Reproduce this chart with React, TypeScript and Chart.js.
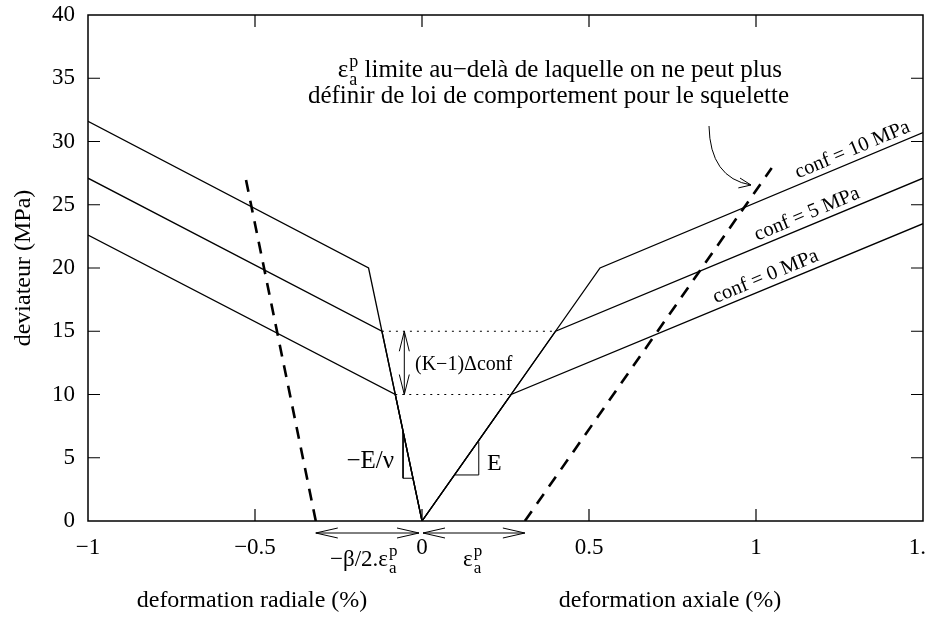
import React, { useEffect, useRef } from "react";
import { Chart, registerables } from "chart.js";
Chart.register(...registerables);

// ---- data ----
const X_TICKS = [-1, -0.5, 0, 0.5, 1, 1.5];
const X_TICK_LABELS = ["−1", "−0.5", "0", "0.5", "1", "1.5"];
const Y_TICKS = [0, 5, 10, 15, 20, 25, 30, 35, 40];

const conf10X = [-1, -0.16, 0, 0.533, 1.5];
const conf10Y = [31.6, 20, 0, 20, 30.7];
const conf5X = [-1, -0.12, 0, 0.4, 1.5];
const conf5Y = [27.1, 15, 0, 15, 27.1];
const conf0X = [-1, -0.08, 0, 0.267, 1.5];
const conf0Y = [22.6, 10, 0, 10, 23.5];

const limitRadialX = [-0.318, -0.528];
const limitRadialY = [0, 27.1];
const limitAxialX = [0.308, 1.047];
const limitAxialY = [0, 27.9];

const dotted15X = [-0.12, 0.4];
const dotted15Y = [15, 15];
const dotted10X = [-0.08, 0.267];
const dotted10Y = [10, 10];

const triRadX = [-0.0567, -0.0567, -0.027];
const triRadY = [7.06, 3.38, 3.38];
const triAxX = [0.097, 0.17, 0.17];
const triAxY = [3.64, 3.64, 6.27];

const CONF_LABELS = ["conf = 10 MPa", "conf = 5 MPa", "conf = 0 MPa"];
const CONF_LABEL_X = [1.302, 1.166, 1.042];

const zip = (xs: number[], ys: number[]) => xs.map((v, i) => ({ x: v, y: ys[i] }));

const FONT = "Liberation Serif";

function arrowHead(ctx: CanvasRenderingContext2D, tx: number, ty: number, dx: number, dy: number, len: number, half: number) {
  const n = Math.hypot(dx, dy);
  const ux = dx / n, uy = dy / n;
  const bx = tx - ux * len, by = ty - uy * len;
  const px = -uy, py = ux;
  ctx.beginPath();
  ctx.moveTo(bx + px * half, by + py * half);
  ctx.lineTo(tx, ty);
  ctx.lineTo(bx - px * half, by - py * half);
  ctx.stroke();
}

function drawEps(ctx: CanvasRenderingContext2D, x: number, y: number, size: number) {
  ctx.font = `${size}px "${FONT}"`;
  ctx.textAlign = "left";
  ctx.textBaseline = "alphabetic";
  ctx.fillText("ε", x, y);
  const w = ctx.measureText("ε").width;
  const s2 = Math.round(size * 0.72);
  ctx.font = `${s2}px "${FONT}"`;
  ctx.fillText("p", x + w + 1, y - size * 0.42);
  ctx.fillText("a", x + w + 1, y + size * 0.32);
  const w2 = Math.max(ctx.measureText("p").width, ctx.measureText("a").width);
  ctx.font = `${size}px "${FONT}"`;
  return w + 1 + w2;
}

function epsWidth(ctx: CanvasRenderingContext2D, size: number) {
  ctx.font = `${size}px "${FONT}"`;
  const w = ctx.measureText("ε").width;
  ctx.font = `${Math.round(size * 0.72)}px "${FONT}"`;
  const w2 = Math.max(ctx.measureText("p").width, ctx.measureText("a").width);
  return w + 1 + w2;
}

const annotPlugin = {
  id: "annot",
  afterDatasetsDraw(chart: any) {
    const { ctx, chartArea: ca, scales } = chart;
    const xs = scales.x, ys = scales.y;
    const X = (v: number) => xs.getPixelForValue(v);
    const Y = (v: number) => ys.getPixelForValue(v);
    ctx.save();
    ctx.strokeStyle = "#000";
    ctx.fillStyle = "#000";

    // frame
    ctx.lineWidth = 1.5;
    ctx.strokeRect(ca.left, ca.top, ca.right - ca.left, ca.bottom - ca.top);

    // inward ticks
    ctx.lineWidth = 1.2;
    const TL = 12;
    X_TICKS.forEach((v) => {
      const px = X(v);
      if (px <= ca.left + 1 || px >= ca.right - 1) return;
      ctx.beginPath();
      ctx.moveTo(px, ca.bottom); ctx.lineTo(px, ca.bottom - TL);
      ctx.moveTo(px, ca.top); ctx.lineTo(px, ca.top + TL);
      ctx.stroke();
    });
    Y_TICKS.forEach((v) => {
      const py = Y(v);
      if (py <= ca.top + 1 || py >= ca.bottom - 1) return;
      ctx.beginPath();
      ctx.moveTo(ca.left, py); ctx.lineTo(ca.left + TL, py);
      ctx.moveTo(ca.right, py); ctx.lineTo(ca.right - TL, py);
      ctx.stroke();
    });

    // axis titles
    ctx.font = `24px "${FONT}"`;
    ctx.textAlign = "center";
    ctx.textBaseline = "alphabetic";
    ctx.fillText("deformation radiale (%)", 252, 607);
    ctx.fillText("deformation axiale (%)", 670, 607);
    ctx.save();
    ctx.translate(30, 268);
    ctx.rotate(-Math.PI / 2);
    ctx.fillText("deviateur (MPa)", 0, 0);
    ctx.restore();

    ctx.lineWidth = 1;
    // vertical double arrow (K-1) Δconf
    const ax = X(-0.053);
    ctx.beginPath();
    ctx.moveTo(ax, Y(15)); ctx.lineTo(ax, Y(10));
    ctx.stroke();
    arrowHead(ctx, ax, Y(15), 0, -1, 20, 5);
    arrowHead(ctx, ax, Y(10), 0, 1, 20, 5);
    ctx.font = `20px "${FONT}"`;
    ctx.textAlign = "left";
    ctx.textBaseline = "alphabetic";
    ctx.fillText("(K−1)Δconf", 415, 370);

    // slope labels
    ctx.font = `25px "${FONT}"`;
    ctx.textAlign = "right";
    ctx.fillText("−E/ν", 394, 468);
    ctx.textAlign = "left";
    ctx.font = `24px "${FONT}"`;
    ctx.fillText("E", 487, 470);

    // horizontal arrows below the axis
    const hy = ca.bottom + 12;
    const x0 = X(0);
    const xl = X(limitRadialX[0]);
    const xr = X(limitAxialX[0]);
    ctx.beginPath();
    ctx.moveTo(xl, hy); ctx.lineTo(x0 - 3, hy);
    ctx.moveTo(x0 + 1, hy); ctx.lineTo(xr, hy);
    ctx.stroke();
    arrowHead(ctx, xl, hy, -1, 0, 22, 5);
    arrowHead(ctx, x0 - 3, hy, 1, 0, 22, 5);
    arrowHead(ctx, x0 + 1, hy, -1, 0, 22, 5);
    arrowHead(ctx, xr, hy, 1, 0, 22, 5);

    // labels under arrows
    ctx.font = `23px "${FONT}"`;
    ctx.textAlign = "left";
    ctx.textBaseline = "alphabetic";
    const pre = "−β/2.";
    ctx.fillText(pre, 330, 566);
    const pw = ctx.measureText(pre).width;
    drawEps(ctx, 330 + pw, 566, 23);
    drawEps(ctx, 463, 566, 23);

    // top annotation (right edges from reference)
    const size = 25;
    const line1 = " limite au−delà de laquelle on ne peut plus";
    const line2 = "définir de loi de comportement pour le squelette";
    const ew = epsWidth(ctx, size);
    ctx.font = `${size}px "${FONT}"`;
    const l1w = ew + ctx.measureText(line1).width;
    const sx = 782 - l1w;
    drawEps(ctx, sx, 77, size);
    ctx.font = `${size}px "${FONT}"`;
    ctx.textAlign = "left";
    ctx.fillText(line1, sx + ew, 77);
    ctx.textAlign = "right";
    ctx.fillText(line2, 789, 103);

    // curved arrow
    ctx.lineWidth = 1;
    ctx.beginPath();
    ctx.moveTo(709, 126);
    ctx.quadraticCurveTo(710, 178, 751, 185);
    ctx.stroke();
    arrowHead(ctx, 751, 185, 41, 7, 12, 5);

    // conf labels along lines
    const series = [
      [conf10X, conf10Y],
      [conf5X, conf5Y],
      [conf0X, conf0Y],
    ];
    ctx.font = `20.5px "${FONT}"`;
    ctx.textAlign = "center";
    ctx.textBaseline = "alphabetic";
    series.forEach(([sx2, sy2], i) => {
      const n = sx2.length;
      const xa = sx2[n - 2], xb = sx2[n - 1], ya = sy2[n - 2], yb = sy2[n - 1];
      const lx = CONF_LABEL_X[i];
      const ly = ya + ((yb - ya) * (lx - xa)) / (xb - xa);
      const ang = Math.atan2(Y(yb) - Y(ya), X(xb) - X(xa));
      ctx.save();
      ctx.translate(X(lx), Y(ly));
      ctx.rotate(ang);
      ctx.fillText(CONF_LABELS[i], 0, -6);
      ctx.restore();
    });

    ctx.restore();
  },
};

export default function App() {
  const ref = useRef<HTMLCanvasElement | null>(null);
  useEffect(() => {
    if (!ref.current) return;
    const solid = (data: any) => ({
      data, showLine: true, borderColor: "#000", borderWidth: 1.3, pointRadius: 0, fill: false,
    });
    const chart = new Chart(ref.current, {
      type: "scatter",
      data: {
        datasets: [
          { label: "conf = 10 MPa", ...solid(zip(conf10X, conf10Y)) },
          { label: "conf = 5 MPa", ...solid(zip(conf5X, conf5Y)) },
          { label: "conf = 0 MPa", ...solid(zip(conf0X, conf0Y)) },
          { label: "limit radial", ...solid(zip(limitRadialX, limitRadialY)), borderWidth: 2.6, borderDash: [12, 9] },
          { label: "limit axial", ...solid(zip(limitAxialX, limitAxialY)), borderWidth: 2.6, borderDash: [12, 9] },
          { label: "dotted 15", ...solid(zip(dotted15X, dotted15Y)), borderWidth: 1, borderDash: [2, 5] },
          { label: "dotted 10", ...solid(zip(dotted10X, dotted10Y)), borderWidth: 1, borderDash: [2, 5] },
          { label: "tri radial", ...solid(zip(triRadX, triRadY)), borderWidth: 1 },
          { label: "tri axial", ...solid(zip(triAxX, triAxY)), borderWidth: 1 },
        ],
      },
      options: {
        responsive: false,
        animation: false,
        layout: { autoPadding: false, padding: { left: 0, right: 4, top: 15, bottom: 0 } } as any,
        plugins: { legend: { display: false }, tooltip: { enabled: false } },
        scales: {
          x: {
            type: "linear",
            min: -1,
            max: 1.5,
            grid: { display: false, drawTicks: false },
            border: { display: false },
            afterBuildTicks: (s: any) => { s.ticks = X_TICKS.map((v) => ({ value: v })); },
            afterFit: (s: any) => { s.height = 97; s.paddingLeft = 0; s.paddingRight = 0; },
            ticks: {
              autoSkip: false, maxRotation: 0, padding: 13, color: "#000",
              font: { family: FONT, size: 23 },
              callback: (_v: any, i: number) => X_TICK_LABELS[i],
            },
          },
          y: {
            type: "linear",
            min: 0,
            max: 40,
            grid: { display: false, drawTicks: false },
            border: { display: false },
            afterBuildTicks: (s: any) => { s.ticks = Y_TICKS.map((v) => ({ value: v })); },
            afterFit: (s: any) => { s.width = 88; s.paddingTop = 0; s.paddingBottom = 0; },
            ticks: {
              padding: 13, color: "#000",
              font: { family: FONT, size: 23 },
              callback: (v: any) => String(v),
            },
          },
        },
      },
      plugins: [annotPlugin],
    } as any);
    return () => chart.destroy();
  }, []);
  return (
    <div style={{ position: "fixed", left: 0, top: 0, width: 927, height: 618, background: "#fff" }}>
      <canvas ref={ref} width={927} height={618} />
    </div>
  );
}
